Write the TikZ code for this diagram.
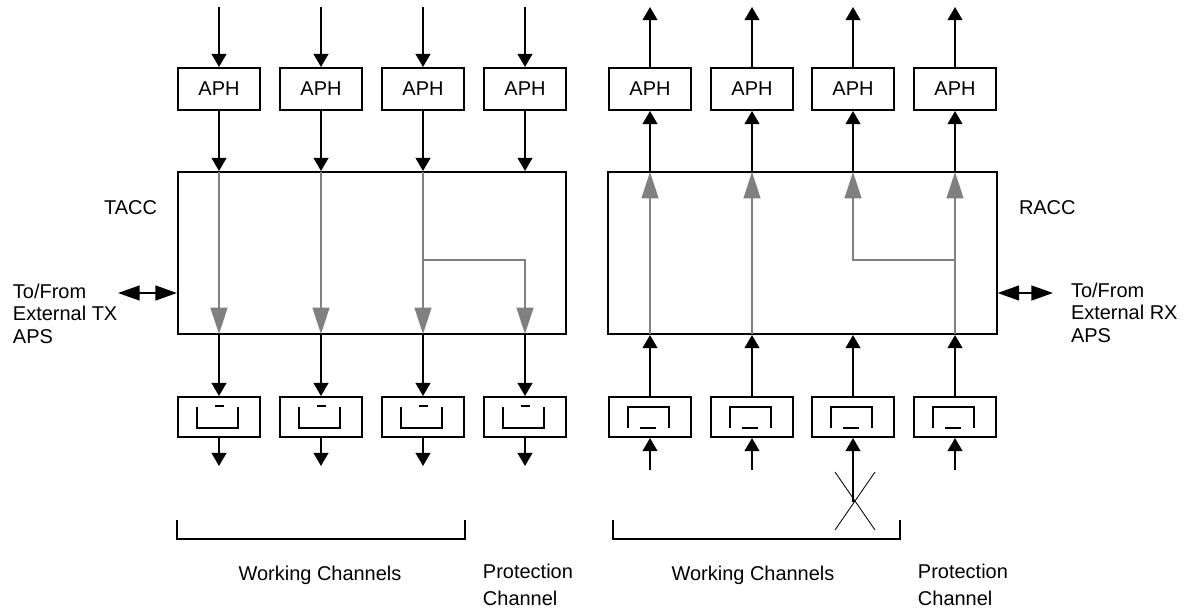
\documentclass[tikz,border=0pt]{standalone}
\usepackage{fontspec}
\setmainfont{Liberation Sans}
\usetikzlibrary{arrows.meta}
\begin{document}
\begin{tikzpicture}[x = 0.025cm, y = -0.025cm, line width = 1.4pt,
  txt/.style = {inner sep = 0pt, font = \fontsize{14.2}{16}\selectfont},
  aph/.style = {draw, txt, minimum width = 2.05cm, minimum height = 1.05cm},
  sw/.style = {draw, minimum width = 2.05cm, minimum height = 1cm, inner sep = 0pt},
  acc/.style = {draw, minimum width = 9.7cm, minimum height = 4.05cm, inner sep = 0pt},
  sig/.style = {-{Triangle[width = 0.37cm, length = 0.33cm]}},
  route/.style = {draw = gray, shorten < = 0.7pt, shorten > = 0.7pt, -{Triangle[width = 0.42cm, length = 0.66cm]}},
  ext/.style = {{Triangle[width = 0.37cm, length = 0.54cm]}-{Triangle[width = 0.37cm, length = 0.54cm]}},
  txsym/.pic = {\draw (-22,-10) -- (-22,11) -- (19,11) -- (19,-10); \draw (-4,-11) -- (5,-11);},
  rxsym/.pic = {\draw (-22,11) -- (-22,-10) -- (19,-10) -- (19,11); \draw (-10,11) -- (6,11);}]
\useasboundingbox (0,0) rectangle (1188,611);
% transmit side
\node[aph] (ta1) at (219,89) {APH};
\node[aph] (ta2) at (321,89) {APH};
\node[aph] (ta3) at (423,89) {APH};
\node[aph] (ta4) at (525,89) {APH};
\node[acc] (tacc) at (372,253) {};
\node[sw] (ts1) at (219,417) {};
\node[sw] (ts2) at (321,417) {};
\node[sw] (ts3) at (423,417) {};
\node[sw] (ts4) at (525,417) {};
\pic at (ts1) {txsym};
\pic at (ts2) {txsym};
\pic at (ts3) {txsym};
\pic at (ts4) {txsym};
\coordinate (tin1) at (219,7);
\coordinate (tin2) at (321,7);
\coordinate (tin3) at (423,7);
\coordinate (tin4) at (525,7);
\coordinate (tout1) at (219,466);
\coordinate (tout2) at (321,466);
\coordinate (tout3) at (423,466);
\coordinate (tout4) at (525,466);
\coordinate (tsplit) at (423,260);
\coordinate (text) at (118,293);
\draw[sig] (tin1) -- (ta1);
\draw[sig] (tin2) -- (ta2);
\draw[sig] (tin3) -- (ta3);
\draw[sig] (tin4) -- (ta4);
\draw[sig] (ta1) -- (ta1 |- tacc.north);
\draw[sig] (ta2) -- (ta2 |- tacc.north);
\draw[sig] (ta3) -- (ta3 |- tacc.north);
\draw[sig] (ta4) -- (ta4 |- tacc.north);
\draw[route] (ta1 |- tacc.north) -- (ta1 |- tacc.south);
\draw[route] (ta2 |- tacc.north) -- (ta2 |- tacc.south);
\draw[route] (ta3 |- tacc.north) -- (ta3 |- tacc.south);
\draw[route] (tsplit) -| (ta4 |- tacc.south);
\draw[sig] (ta1 |- tacc.south) -- (ts1);
\draw[sig] (ta2 |- tacc.south) -- (ts2);
\draw[sig] (ta3 |- tacc.south) -- (ts3);
\draw[sig] (ta4 |- tacc.south) -- (ts4);
\draw[sig] (ts1) -- (tout1);
\draw[sig] (ts2) -- (tout2);
\draw[sig] (ts3) -- (tout3);
\draw[sig] (ts4) -- (tout4);
\draw[ext] (text) -- (tacc.west |- text);
\node[txt, anchor = base east] (tlbl) at (158,214.5) {TACC};
\node[txt, anchor = north west, align = left] (tnote) at (12,283) {To/From\\External TX\\APS};
% receive side
\node[aph] (ra1) at (650,89) {APH};
\node[aph] (ra2) at (752,89) {APH};
\node[aph] (ra3) at (853,89) {APH};
\node[aph] (ra4) at (955,89) {APH};
\node[acc] (racc) at (802.5,253) {};
\node[sw] (rs1) at (650,417) {};
\node[sw] (rs2) at (752,417) {};
\node[sw] (rs3) at (853,417) {};
\node[sw] (rs4) at (955,417) {};
\pic at (rs1) {rxsym};
\pic at (rs2) {rxsym};
\pic at (rs3) {rxsym};
\pic at (rs4) {rxsym};
\coordinate (rout1) at (650,7);
\coordinate (rout2) at (752,7);
\coordinate (rout3) at (853,7);
\coordinate (rout4) at (955,7);
\coordinate (rin1) at (650,470);
\coordinate (rin2) at (752,470);
\coordinate (rin3) at (853,502);
\coordinate (rin4) at (955,470);
\coordinate (rsplit) at (955,260);
\coordinate (rext) at (1053,293);
\draw[sig] (ra1) -- (rout1);
\draw[sig] (ra2) -- (rout2);
\draw[sig] (ra3) -- (rout3);
\draw[sig] (ra4) -- (rout4);
\draw[sig] (ra1 |- racc.north) -- (ra1);
\draw[sig] (ra2 |- racc.north) -- (ra2);
\draw[sig] (ra3 |- racc.north) -- (ra3);
\draw[sig] (ra4 |- racc.north) -- (ra4);
\draw[route] (ra1 |- racc.south) -- (ra1 |- racc.north);
\draw[route] (ra2 |- racc.south) -- (ra2 |- racc.north);
\draw[route] (ra4 |- racc.south) -- (ra4 |- racc.north);
\draw[route] (rsplit) -| (ra3 |- racc.north);
\draw[sig] (rs1) -- (ra1 |- racc.south);
\draw[sig] (rs2) -- (ra2 |- racc.south);
\draw[sig] (rs3) -- (ra3 |- racc.south);
\draw[sig] (rs4) -- (ra4 |- racc.south);
\draw[sig] (rin1) -- (rs1);
\draw[sig] (rin2) -- (rs2);
\draw[sig] (rin3) -- (rs3);
\draw[sig] (rin4) -- (rs4);
\draw[line width = 0.6pt] (835,472) -- (875,530) (875,472) -- (835,530);
\draw[ext] (racc.east |- rext) -- (rext);
\node[txt, anchor = base west] (rlbl) at (1018,214.5) {RACC};
\node[txt, anchor = north west, align = left] (rnote) at (1070,282) {To/From\\External RX\\APS};
% channel groups
\draw (177,520) -- (177,539) -- (465,539) -- (465,520);
\draw (613,520) -- (613,539) -- (900,539) -- (900,520);
\node[txt, anchor = base] (twork) at (320,580) {Working Channels};
\node[txt, anchor = base] (rwork) at (753,580) {Working Channels};
\node[txt, anchor = north west, align = left, font = \fontsize{14.2}{19}\selectfont] (tprot) at (482,563) {Protection\\Channel};
\node[txt, anchor = north west, align = left, font = \fontsize{14.2}{19}\selectfont] (rprot) at (917,563) {Protection\\Channel};
\end{tikzpicture}
\end{document}
